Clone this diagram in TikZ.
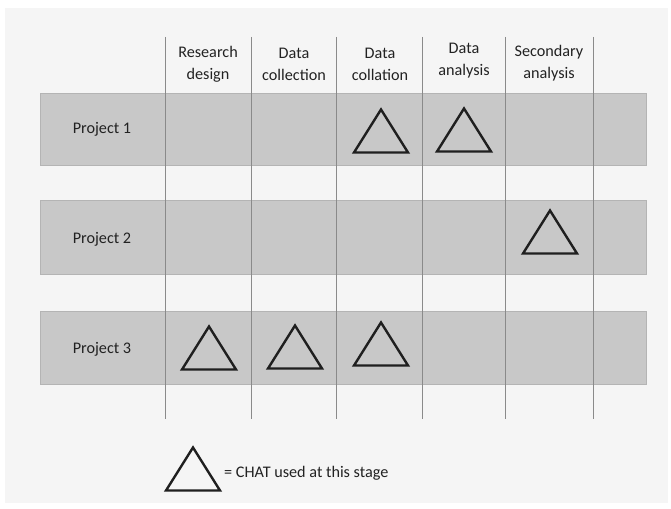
\documentclass[tikz,border=0pt]{standalone}
\usepackage{fontspec}
\setmainfont{Carlito}
\definecolor{pagebg}{HTML}{F5F5F5}
\definecolor{bandfill}{HTML}{C8C8C8}
\definecolor{bandedge}{HTML}{B4B4B4}
\definecolor{gridline}{HTML}{8A8A8A}
\definecolor{inktext}{HTML}{222222}
\tikzset{
  band/.style={draw=bandedge, fill=bandfill, line width=0.8pt, inner sep=0pt, anchor=north west, minimum width=606pt},
  grid/.style={draw=gridline, line width=0.8pt},
  head/.style={align=center, text=inktext, font=\fontsize{16.2}{22}\selectfont, inner sep=0pt},
  proj/.style={text=inktext, font=\fontsize{16.2}{18}\selectfont, inner sep=0pt},
  tri/.style={draw=black!88, line width=2.4pt, line join=miter},
  chat/.pic={\path[tri] (-27,21.5) -- (0,-21.5) -- (27,21.5) -- cycle;}
}
\begin{document}
\begin{tikzpicture}[x=1pt, y=-1pt]
  \useasboundingbox (0,0) rectangle (671,508);
  \fill[white] (0,0) rectangle (671,508);
  \fill[pagebg] (5,8) rectangle (668,503);

  % project rows
  \node[band, minimum height=72pt] (row1) at (40,93) {};
  \node[band, minimum height=74pt] (row2) at (40,200) {};
  \node[band, minimum height=73pt] (row3) at (40,311) {};

  % column separators
  \foreach \x [count=\i] in {165,251,336,422,505,593} {
    \coordinate (top\i) at (\x,37);
    \coordinate (bot\i) at (\x,419);
    \draw[grid] (top\i) -- (bot\i);
  }

  % stage headings
  \node[head] (h1) at (208,64) {Research\\design};
  \node[head] (h2) at (294,64) {Data\\collection};
  \node[head] (h3) at (380,64) {Data\\collation};
  \node[head] (h4) at (464,61) {Data\\analysis};
  \node[head] (h5) at (549,63) {Secondary\\analysis};

  % project labels
  \node[proj] (p1) at (102,129) {Project 1};
  \node[proj] (p2) at (102,239) {Project 2};
  \node[proj] (p3) at (102,349) {Project 3};

  % stages where CHAT is used
  \pic at (381,131) {chat};
  \pic at (464,130) {chat};
  \pic at (550,232) {chat};
  \pic at (209,348) {chat};
  \pic at (295,347) {chat};
  \pic at (381,344) {chat};

  % key
  \pic at (193,469) {chat};
  \node[proj, anchor=west] (key) at (224,473) {= CHAT used at this stage};
\end{tikzpicture}
\end{document}
